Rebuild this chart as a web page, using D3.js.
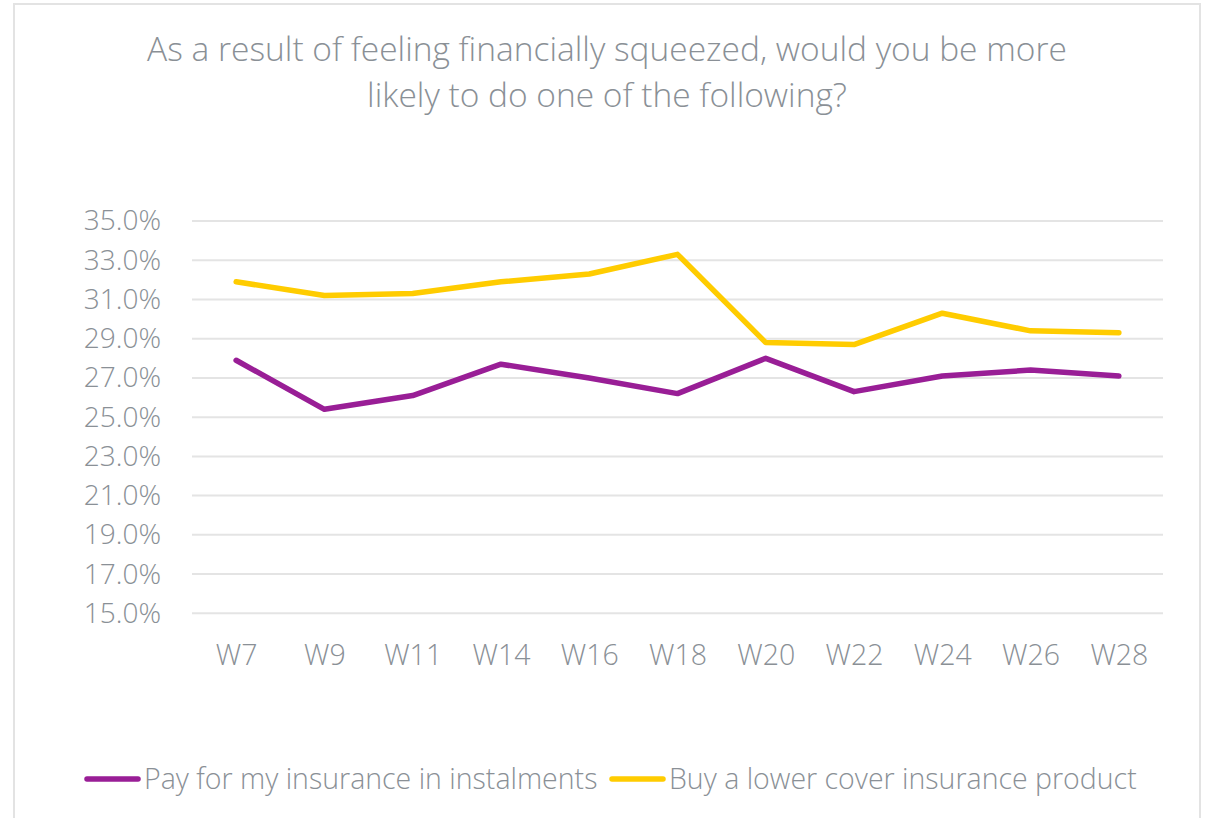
<!DOCTYPE html>
<html>
<head>
<meta charset="utf-8">
<script src="https://cdn.jsdelivr.net/npm/d3@7/dist/d3.min.js"></script>
<style>
  html, body { margin: 0; padding: 0; background: #fff; }
  svg { display: block; }
  text { font-family: "Open Sans", sans-serif; font-weight: 300; fill: #8a9096; }
</style>
</head>
<body>
<script>
const categories = ["W7","W9","W11","W14","W16","W18","W20","W22","W24","W26","W28"];
const seriesNames = ["Pay for my insurance in instalments", "Buy a lower cover insurance product"];
const instalments = [27.9, 25.4, 26.1, 27.7, 27.0, 26.2, 28.0, 26.3, 27.1, 27.4, 27.1];
const lowerCover = [31.9, 31.2, 31.3, 31.9, 32.3, 33.3, 28.8, 28.7, 30.3, 29.4, 29.3];
const yTicks = [15, 17, 19, 21, 23, 25, 27, 29, 31, 33, 35];
const titleLines = ["As a result of feeling financially squeezed, would you be more", "likely to do one of the following?"];
const colors = ["#991e96", "#ffcc00"];

const W = 1215, H = 818;
const svg = d3.select("body").append("svg").attr("width", W).attr("height", H);

// chart border
svg.append("rect").attr("x", 14).attr("y", 4).attr("width", 1186).attr("height", 830)
  .attr("fill", "none").attr("stroke", "#e3e3e3").attr("stroke-width", 2);

// title
svg.append("text").attr("x", 607).attr("text-anchor", "middle")
  .attr("font-size", 33.5)
  .selectAll("tspan").data(titleLines).join("tspan")
  .attr("x", 607).attr("y", (d, i) => 61 + i * 46).text(d => d);

const pLeft = 192, pRight = 1163, pTop = 221, pBottom = 613.3;
const x = d3.scalePoint().domain(categories).range([pLeft, pRight]).padding(0.5);
const y = d3.scaleLinear().domain([15, 35]).range([pBottom, pTop]);

// gridlines
svg.append("g").selectAll("line").data(yTicks).join("line")
  .attr("x1", pLeft).attr("x2", pRight)
  .attr("y1", d => y(d)).attr("y2", d => y(d))
  .attr("stroke", "#e4e4e4").attr("stroke-width", 2);

// y axis
const yAxis = svg.append("g").attr("transform", `translate(${pLeft - 31},0)`)
  .call(d3.axisLeft(y).tickValues(yTicks).tickSize(0).tickPadding(0).tickFormat(d => d.toFixed(1) + "%"));
yAxis.select(".domain").remove();
yAxis.selectAll("text").attr("font-size", 28).attr("font-family", "Open Sans").attr("font-weight", 300).attr("fill", "#8a9096");

// x axis
const xAxis = svg.append("g").attr("transform", `translate(0,${pBottom + 31})`)
  .call(d3.axisBottom(x).tickSize(0).tickPadding(0));
xAxis.select(".domain").remove();
xAxis.selectAll("text").attr("font-size", 28.5).attr("font-family", "Open Sans").attr("font-weight", 300).attr("fill", "#8a9096");

// lines
const line = d3.line().x((d, i) => x(categories[i])).y(d => y(d));
[instalments, lowerCover].forEach((s, i) => {
  svg.append("path").datum(s).attr("d", line)
    .attr("fill", "none").attr("stroke", colors[i]).attr("stroke-width", 5.5)
    .attr("stroke-linejoin", "round").attr("stroke-linecap", "round");
});

// legend
const legendItems = [{x: 85, name: seriesNames[0], c: colors[0]}, {x: 610, name: seriesNames[1], c: colors[1]}];
const lg = svg.append("g");
legendItems.forEach(it => {
  lg.append("line").attr("x1", it.x + 2).attr("x2", it.x + 53).attr("y1", 779).attr("y2", 779)
    .attr("stroke", it.c).attr("stroke-width", 5.5).attr("stroke-linecap", "round");
  lg.append("text").attr("x", it.x + 59).attr("y", 789).attr("font-size", 28.5).text(it.name);
});
</script>
</body>
</html>
